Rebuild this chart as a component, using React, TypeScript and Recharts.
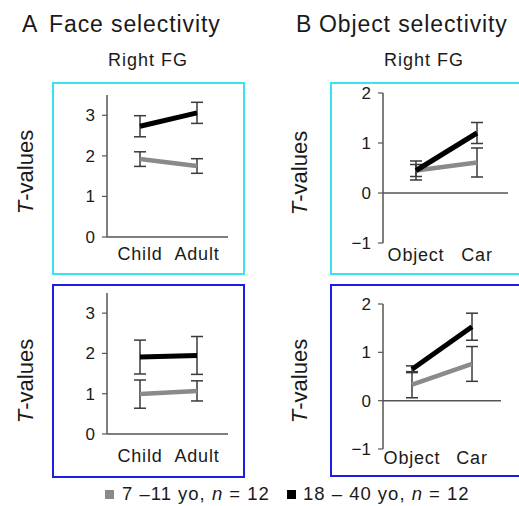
import React from 'react';
import { LineChart, Line, XAxis, YAxis, ErrorBar, ReferenceLine } from 'recharts';

// categories
const faceCats = ['Child', 'Adult'];
const objCats = ['Object', 'Car'];

// face selectivity, top (cyan) panel
const faceTopKids = [1.92, 1.75];
const faceTopKidsErr = [0.18, 0.18];
const faceTopAdults = [2.73, 3.06];
const faceTopAdultsErr = [0.26, 0.26];

// face selectivity, bottom (blue) panel
const faceBotKids = [0.99, 1.07];
const faceBotKidsErr = [0.35, 0.25];
const faceBotAdults = [1.91, 1.95];
const faceBotAdultsErr = [0.42, 0.47];

// object selectivity, top panel
const objTopKids = [0.45, 0.61];
const objTopKidsErr = [0.12, 0.29];
const objTopAdults = [0.45, 1.2];
const objTopAdultsErr = [0.19, 0.21];

// object selectivity, bottom panel
const objBotKids = [0.33, 0.76];
const objBotKidsErr = [0.27, 0.36];
const objBotAdults = [0.65, 1.53];
const objBotAdultsErr = [0.07, 0.28];

const faceTicks = [0, 1, 2, 3];
const objTicks = [-1, 0, 1, 2];

const legendLabels = ['7 \u201311 yo, ', '18 \u2013 40 yo, '];

const CYAN = '#38e4ee';
const BLUE = '#1c1ce4';
const AXIS = '#555';
const TXT = '#1a1a1a';

const rows = (cats: string[], k: number[], ke: number[], a: number[], ae: number[]) =>
    cats.map((c, i) => ({ name: c, kids: k[i], kidsErr: ke[i], adults: a[i], adultsErr: ae[i] }));

type PanelProps = {
    left: number;
    top: number;
    w: number;
    h: number;
    color: string;
    data: any[];
    domain: [number, number];
    ticks: number[];
    margin: { top: number; right: number; left: number; bottom: number };
    xHeight: number;
    pad: { left: number; right: number };
    tickMargin: number;
    zeroLine?: boolean;
};

const Panel = (p: PanelProps) => (
    <>
        <div
            style={{
                position: 'absolute',
                left: p.left,
                top: p.top,
                width: p.w,
                height: p.h,
                border: `2.5px solid ${p.color}`,
                boxSizing: 'border-box',
            }}
        />
        <div style={{ position: 'absolute', left: p.left, top: p.top }}>
            <LineChart width={p.w} height={p.h} data={p.data} margin={p.margin}>
                <XAxis
                    dataKey='name'
                    height={p.xHeight}
                    padding={p.pad}
                    axisLine={p.zeroLine ? false : { stroke: AXIS, strokeWidth: 1.5 }}
                    tickLine={false}
                    tickSize={0}
                    tickMargin={p.tickMargin}
                    tick={{ fontSize: 18, fill: TXT, letterSpacing: 0.8 }}
                />
                <YAxis
                    width={53}
                    domain={p.domain}
                    ticks={p.ticks}
                    interval={0}
                    axisLine={{ stroke: AXIS, strokeWidth: 1.5 }}
                    tickLine={{ stroke: AXIS, strokeWidth: 1.2 }}
                    tickSize={5}
                    tickMargin={7}
                    tickFormatter={(v: number) => (v < 0 ? '\u2212' + Math.abs(v) : String(v))}
                    tick={{ fontSize: 17, fill: TXT }}
                />
                {p.zeroLine && <ReferenceLine y={0} stroke={AXIS} strokeWidth={1.5} />}
                <Line
                    type='linear'
                    dataKey='kids'
                    stroke='#8a8a8a'
                    strokeWidth={4.5}
                    dot={false}
                    activeDot={false}
                    isAnimationActive={false}
                >
                    <ErrorBar dataKey='kidsErr' width={6} stroke='#3a3a3a' strokeWidth={1.5} direction='y' isAnimationActive={false} />
                </Line>
                <Line
                    type='linear'
                    dataKey='adults'
                    stroke='#000'
                    strokeWidth={5}
                    dot={false}
                    activeDot={false}
                    isAnimationActive={false}
                >
                    <ErrorBar dataKey='adultsErr' width={6} stroke='#3a3a3a' strokeWidth={1.5} direction='y' isAnimationActive={false} />
                </Line>
            </LineChart>
        </div>
    </>
);

const YLabel = ({ x, y }: { x: number; y: number }) => (
    <text transform={`translate(${x},${y}) rotate(-90)`} textAnchor='middle' fontSize={22} fill={TXT}>
        <tspan fontStyle='italic'>T</tspan>-values
    </text>
);

const App = () => {
    return (
        <div
            style={{
                position: 'absolute',
                left: 0,
                top: 0,
                width: 519,
                height: 506,
                background: '#fff',
                overflow: 'hidden',
                fontFamily: '"Liberation Sans", Arial, Helvetica, sans-serif',
            }}
        >
            <Panel
                left={52}
                top={82}
                w={193}
                h={193}
                color={CYAN}
                data={rows(faceCats, faceTopKids, faceTopKidsErr, faceTopAdults, faceTopAdultsErr)}
                domain={[0, 3.5]}
                ticks={faceTicks}
                margin={{ top: 13, right: 17, left: 2, bottom: 0 }}
                xHeight={38}
                pad={{ left: 33, right: 31 }}
                tickMargin={10}
            />
            <Panel
                left={52}
                top={284}
                w={193}
                h={194}
                color={BLUE}
                data={rows(faceCats, faceBotKids, faceBotKidsErr, faceBotAdults, faceBotAdultsErr)}
                domain={[0, 3.5]}
                ticks={faceTicks}
                margin={{ top: 9, right: 17, left: 2, bottom: 0 }}
                xHeight={44}
                pad={{ left: 33, right: 31 }}
                tickMargin={15}
            />
            <Panel
                left={330}
                top={82}
                w={192}
                h={193}
                color={CYAN}
                data={rows(objCats, objTopKids, objTopKidsErr, objTopAdults, objTopAdultsErr)}
                domain={[-1, 2]}
                ticks={objTicks}
                margin={{ top: 11, right: 14, left: 0, bottom: 0 }}
                xHeight={32}
                pad={{ left: 33, right: 31 }}
                tickMargin={5}
                zeroLine
            />
            <Panel
                left={330}
                top={284}
                w={192}
                h={193}
                color={BLUE}
                data={rows(objCats, objBotKids, objBotKidsErr, objBotAdults, objBotAdultsErr)}
                domain={[-1, 2]}
                ticks={objTicks}
                margin={{ top: 20, right: 21, left: 0, bottom: 0 }}
                xHeight={28}
                pad={{ left: 29, right: 29 }}
                tickMargin={2}
                zeroLine
            />
            <svg
                width={519}
                height={506}
                style={{ position: 'absolute', left: 0, top: 0, pointerEvents: 'none' }}
            >
                <text x={22} y={32} fontSize={23} fill={TXT}>A</text>
                <text x={49} y={32} fontSize={23} fill={TXT} letterSpacing={0.9}>Face selectivity</text>
                <text x={148} y={66} fontSize={18} fill={TXT} letterSpacing={1} textAnchor='middle'>Right FG</text>
                <text x={296} y={32} fontSize={23} fill={TXT}>B</text>
                <text x={319} y={32} fontSize={23} fill={TXT} letterSpacing={0.9}>Object selectivity</text>
                <text x={424} y={66} fontSize={18} fill={TXT} letterSpacing={1} textAnchor='middle'>Right FG</text>
                <YLabel x={33} y={172} />
                <YLabel x={33} y={381} />
                <YLabel x={307} y={173} />
                <YLabel x={307} y={381} />
                <rect x={105} y={490} width={9} height={9} fill='#8a8a8a' />
                <text x={122} y={500} fontSize={18.5} fill={TXT} letterSpacing={1}>
                    {legendLabels[0]}
                    <tspan fontStyle='italic'>n</tspan> = 12
                </text>
                <rect x={287} y={490} width={9} height={9} fill='#000' />
                <text x={303} y={500} fontSize={18.5} fill={TXT} letterSpacing={1}>
                    {legendLabels[1]}
                    <tspan fontStyle='italic'>n</tspan> = 12
                </text>
            </svg>
        </div>
    );
};

export default App;
